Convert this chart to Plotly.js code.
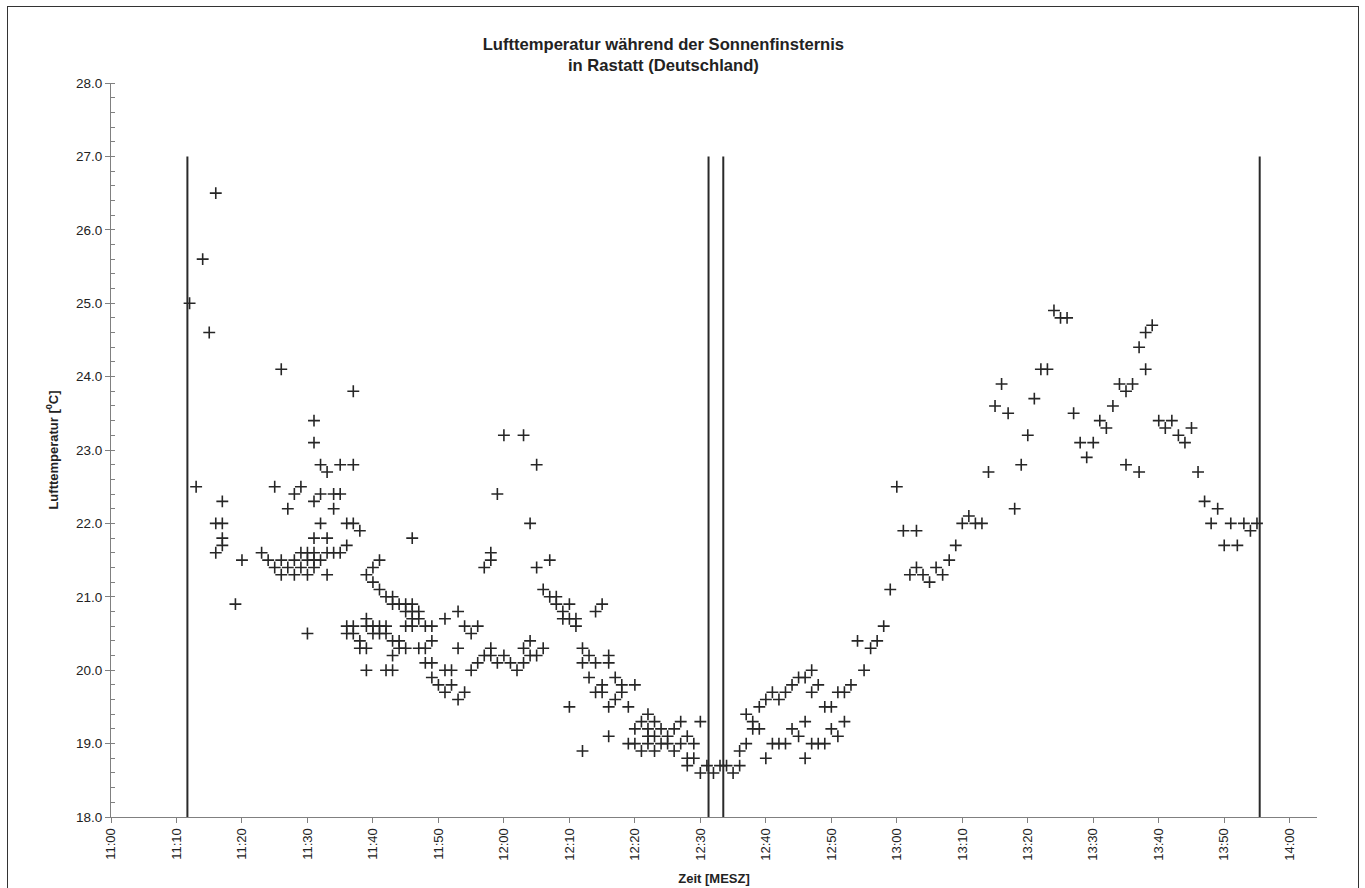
<!DOCTYPE html>
<html>
<head>
<meta charset="utf-8">
<script src="https://cdn.plot.ly/plotly-3.0.1.min.js"></script>
<style>
  html, body { margin: 0; padding: 0; background: #fff; overflow: hidden; }
  #chart { width: 1365px; height: 888px; }
  #frame { position: absolute; left: 7px; top: 6px; width: 1352px; height: 900px;
           border: 1.5px solid #333; pointer-events: none; box-sizing: border-box; }
</style>
</head>
<body>
<div id="chart"></div>
<div id="frame"></div>
<script>
// Measurement minutes after 11:00 MESZ (11. Aug 1999) and temperatures read at each minute
const minutes = [12,13,14,15,16,17,19,20,23,24,25,26,27,28,29,30,31,32,33,34,35,36,37,38,39,40,
  41,42,43,44,45,46,47,48,49,50,51,52,53,54,55,56,57,58,59,60,61,62,63,64,65,66,67,68,69,70,
  71,72,73,74,75,76,77,78,79,80,81,82,83,84,85,86,87,88,89,90,91,92,93,94,95,96,97,98,99,100,
  101,102,103,104,105,106,107,108,109,110,111,112,113,114,115,116,117,118,119,120,121,122,123,124,125,
  126,127,128,129,130,131,132,133,134,135,136,137,138,139,140,141,142,143,144,145,146,147,148,149,150,
  151,152,153,154,155,156,157,158,159,160,161,162,163,164,165,166,167,168,169,170,171,172,173,174,175];

const temps = [
  [25.0],[22.5],[25.6],[24.6],[26.5,22.0,21.6],[22.3,22.0,21.8,21.7],[20.9],[21.5],
  [21.6],[21.5],[22.5,21.4],[24.1,21.5,21.3],[22.2,21.4],[22.4,21.5,21.3],[22.5,21.6,21.4],
  [21.6,21.5,21.3,20.5],[23.4,23.1,22.3,21.8,21.6,21.5,21.4],[22.8,22.4,22.0,21.5],
  [22.7,21.8,21.6,21.3],[22.4,22.2,21.6],[22.8,22.4,21.6],[22.0,21.7,20.6,20.5],
  [23.8,22.8,22.0,20.6,20.5],[21.9,20.4,20.3],[21.3,20.7,20.6,20.3,20.0],[21.4,21.2,20.6,20.5],
  [21.5,21.1,20.6,20.5],[21.0,20.6,20.5,20.0],[21.0,20.9,20.4,20.2,20.0],[20.9,20.4,20.3],
  [20.9,20.8,20.6,20.3],[21.8,20.9,20.8,20.7,20.6],[20.8,20.7,20.3],[20.6,20.3,20.1],
  [20.6,20.4,20.1,19.9],[19.8],[20.7,20.0,19.7],[20.0,19.8],[20.8,20.3,19.6],[20.6,19.7],
  [20.5,20.0],[20.6,20.1],[21.4,20.2],[21.6,21.5,20.3,20.2],[22.4,20.1],[23.2,20.2],
  [20.1],[20.0],[23.2,20.3,20.1],[22.0,20.4,20.2],[22.8,21.4,20.2],[21.1,20.3],[21.5,21.0],
  [21.0,20.9],[20.8,20.7],[20.9,20.7,19.5],[20.7,20.6],[20.3,20.1,18.9],[20.2,19.9],
  [20.8,20.1,19.7],[20.9,19.8,19.7],[20.2,20.1,19.5,19.1],[19.9,19.6],[19.8,19.7],
  [19.5,19.0],[19.8,19.2,19.0],[19.3,18.9],[19.4,19.2,19.1,19.0],[19.3,19.1,18.9],
  [19.2,19.0],[19.1,19.0],[19.2,18.9],[19.3,19.0],[19.1,18.8,18.7],[19.0,18.8],[19.3,18.6],
  [18.7],[18.6],[18.7],[18.7],[18.6],[18.9,18.7],[19.4,19.0],[19.3,19.2],[19.5,19.2],
  [19.6,18.8],[19.7,19.0],[19.6,19.0],[19.7,19.0],[19.8,19.2],[19.9,19.1],[19.9,19.3,18.8],
  [20.0,19.7,19.0],[19.8,19.0],[19.5,19.0],[19.5,19.2],[19.7,19.1],[19.7,19.3],[19.8],
  [20.4],[20.0],[20.3],[20.4],[20.6],[21.1],[22.5],[21.9],[21.3],[21.9,21.4],[21.3],
  [21.2],[21.4],[21.3],[21.5],[21.7],[22.0],[22.1],[22.0],[22.0],[22.7],[23.6],[23.9],
  [23.5],[22.2],[22.8],[23.2],[23.7],[24.1],[24.1],[24.9],[24.8],[24.8],[23.5],[23.1],
  [22.9],[23.1],[23.4],[23.3],[23.6],[23.9],[23.8,22.8],[23.9],[24.4,22.7],[24.6,24.1],
  [24.7],[23.4],[23.3],[23.4],[23.2],[23.1],[23.3],[22.7],[22.3],[22.0],[22.2],[21.7],
  [22.0],[21.7],[22.0],[21.9],[22.0]
];

// Eclipse contact times (vertical lines) and their upper end
const contactTimes = ['1999-08-11 11:11:40','1999-08-11 12:31:15','1999-08-11 12:33:30','1999-08-11 13:55:25'];
const lineBottom = 18;
const lineTop = 27;

const titleText = '<b>Lufttemperatur während der Sonnenfinsternis<br>in Rastatt (Deutschland)</b>';
const xTitle = '<b>Zeit [MESZ]</b>';
const yTitle = '<b>Lufttemperatur [<sup>0</sup>C]</b>';
const xRange = ['1999-08-11 11:00:00', '1999-08-11 14:04:10'];
const yRange = [18, 28];

function minuteToTime(m) {
  const h = 11 + Math.floor(m / 60);
  const mm = m % 60;
  return '1999-08-11 ' + String(h).padStart(2, '0') + ':' + String(mm).padStart(2, '0') + ':00';
}

const xs = [], ys = [];
minutes.forEach((m, i) => {
  temps[i].forEach(v => { xs.push(minuteToTime(m)); ys.push(v); });
});

const font = 'Liberation Sans, Arial, sans-serif';
const axisColor = '#808080';

const trace = {
  type: 'scatter', mode: 'markers', x: xs, y: ys,
  marker: { symbol: 'cross-thin', size: 8.5, line: { width: 1.6, color: '#262626' }, color: '#262626' },
  hoverinfo: 'x+y', showlegend: false
};

const shapes = contactTimes.map(t => ({
  type: 'line', xref: 'x', yref: 'y', x0: t, x1: t, y0: lineBottom, y1: lineTop,
  line: { color: '#2a2a2a', width: 2 }
}));

const layout = {
  width: 1365, height: 888,
  margin: { l: 111, r: 48, t: 83, b: 71, pad: 0 },
  paper_bgcolor: '#fff', plot_bgcolor: '#fff',
  font: { family: font, color: '#222' },
  title: { text: titleText, x: 0.486, xanchor: 'center', xref: 'container',
           y: 0.944, yanchor: 'top', yref: 'container',
           font: { family: font, size: 16.6, color: '#222' } },
  xaxis: {
    type: 'date', range: xRange, tick0: '1999-08-11 11:00:00', dtick: 600000,
    tickformat: '%H:%M', tickangle: -90,
    ticks: 'outside', ticklen: 5, tickcolor: axisColor, tickwidth: 1,
    showline: true, linecolor: axisColor, linewidth: 1,
    showgrid: false, zeroline: false,
    tickfont: { family: font, size: 13, color: '#222' },
    title: { text: xTitle, font: { family: font, size: 13, color: '#222' }, standoff: 14 },
    automargin: false
  },
  yaxis: {
    range: yRange, dtick: 1, tickformat: '.1f',
    ticks: 'outside', ticklen: 5, tickcolor: axisColor, tickwidth: 1,
    minor: { dtick: 0.2, ticks: 'inside', ticklen: 4, tickcolor: axisColor, showgrid: false },
    showline: true, linecolor: axisColor, linewidth: 1,
    showgrid: false, zeroline: false,
    tickfont: { family: font, size: 13.5, color: '#222' },
    title: { text: yTitle, font: { family: font, size: 13, color: '#222' }, standoff: 14 },
    automargin: false
  },
  shapes: shapes
};

Plotly.newPlot('chart', [trace], layout, { displayModeBar: false, staticPlot: true });
</script>
</body>
</html>
